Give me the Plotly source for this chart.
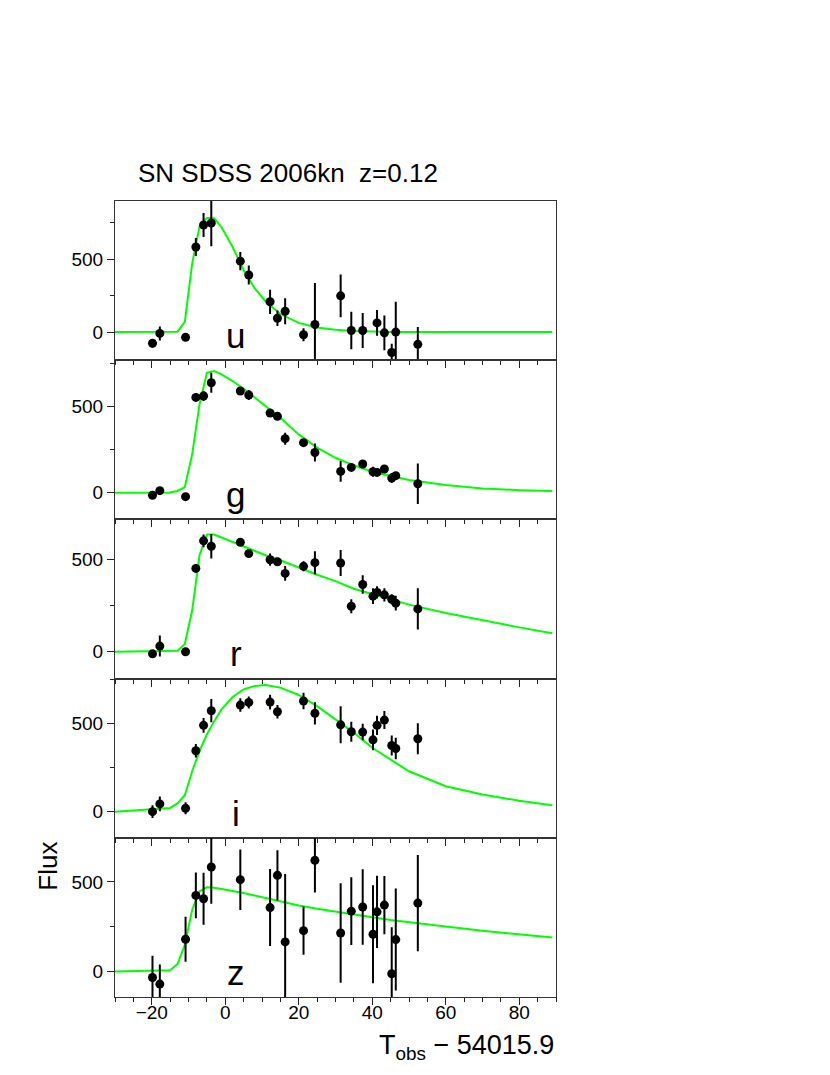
import plotly.graph_objects as go
from plotly.subplots import make_subplots

# observed light curve points: time, flux, flux error per band
t_u = [-19.8, -17.8, -10.8, -8.0, -5.9, -3.8, 4.1, 6.4, 12.2, 14.2, 16.3, 21.3, 24.4, 31.4, 34.3, 37.4, 41.3, 43.3, 45.3, 46.4, 52.4]
f_u = [-77, -9, -36, 584, 735, 749, 487, 392, 208, 95, 143, -18, 52, 249, 11, 11, 63, -5, -140, 0, -84]
e_u = [28, 48, 20, 62, 83, 160, 62, 66, 83, 54, 90, 45, 285, 147, 128, 120, 88, 119, 60, 209, 119]

t_g = [-19.8, -17.8, -10.8, -8.0, -5.9, -3.8, 4.1, 6.4, 12.2, 14.2, 16.3, 21.3, 24.4, 31.4, 34.3, 37.4, 40.2, 41.3, 43.3, 45.3, 46.4, 52.4]
f_g = [-15, 12, -23, 554, 562, 639, 591, 568, 463, 444, 314, 291, 234, 124, 147, 167, 122, 118, 138, 85, 99, 52]
e_g = [10, 12, 8, 20, 29, 58, 15, 29, 18, 15, 35, 15, 52, 60, 18, 18, 29, 20, 18, 29, 18, 118]

t_r = [-19.8, -17.8, -10.8, -8.0, -5.9, -3.8, 4.1, 6.4, 12.2, 14.2, 16.3, 21.3, 24.4, 31.4, 34.3, 37.4, 40.2, 41.3, 43.3, 45.3, 46.4, 52.4]
f_r = [-11, 31, 0, 451, 600, 571, 592, 531, 498, 487, 424, 462, 482, 480, 246, 364, 301, 321, 308, 284, 263, 232]
e_r = [14, 57, 8, 22, 34, 66, 18, 18, 33, 22, 40, 27, 62, 70, 38, 50, 42, 33, 36, 27, 40, 111]

t_i = [-19.8, -17.8, -10.8, -8.0, -5.9, -3.8, 4.1, 6.4, 12.2, 14.2, 21.3, 24.4, 31.4, 34.3, 37.4, 40.2, 41.3, 43.3, 45.3, 46.4, 52.4]
f_i = [0, 44, 19, 345, 489, 572, 604, 619, 621, 566, 627, 557, 492, 453, 451, 407, 489, 519, 375, 358, 413]
e_i = [36, 42, 34, 38, 42, 66, 38, 34, 42, 38, 47, 63, 105, 57, 47, 59, 55, 51, 57, 61, 88]

t_z = [-19.8, -17.8, -10.8, -8.0, -5.9, -3.8, 4.1, 12.2, 14.2, 16.3, 21.3, 24.4, 31.4, 34.3, 37.4, 40.2, 41.3, 43.3, 45.3, 46.4, 52.4]
f_z = [-34, -71, 180, 425, 406, 584, 513, 357, 537, 165, 228, 621, 215, 337, 360, 208, 333, 371, -13, 178, 382]
e_z = [122, 110, 126, 128, 145, 206, 169, 215, 140, 380, 135, 180, 278, 189, 211, 274, 202, 163, 260, 285, 269]

# model curves (green)
t_model = [-30, -15, -13, -11, -9, -7, -5, -3, -1, 2, 5, 8, 11, 15, 20, 25, 30, 35, 40, 45, 50, 60, 70, 80, 89]
m_u = [0, 0, 3, 70, 470, 726, 783, 781, 720, 584, 425, 301, 210, 124, 63, 32, 16, 7, 2, 0, 0, 0, 0, 0, 0]
m_g = [0, 2, 10, 33, 223, 513, 697, 707, 688, 649, 604, 552, 504, 436, 339, 262, 203, 159, 122, 97, 74, 45, 25, 15, 10]
m_r = [0, 2, 5, 42, 223, 522, 634, 634, 618, 594, 571, 545, 522, 495, 455, 417, 382, 341, 313, 286, 255, 210, 169, 132, 100]
m_i = [0, 21, 47, 93, 229, 343, 437, 513, 580, 650, 693, 712, 718, 703, 661, 598, 523, 447, 362, 295, 229, 144, 97, 62, 36]
m_z = [0, 6, 41, 148, 345, 448, 470, 468, 461, 451, 438, 425, 410, 391, 369, 350, 333, 317, 303, 288, 275, 251, 228, 208, 189]

bands = ["u", "g", "r", "i", "z"]
obs = [(t_u, f_u, e_u), (t_g, f_g, e_g), (t_r, f_r, e_r), (t_i, f_i, e_i), (t_z, f_z, e_z)]
models = [m_u, m_g, m_r, m_i, m_z]
y_ranges = [[-193, 900], [-155, 770], [-145, 716], [-148, 754], [-143, 747]]

FONT = "Liberation Sans, Arial, Helvetica, sans-serif"

fig = make_subplots(rows=5, cols=1, shared_xaxes=False, vertical_spacing=0)

for k, band in enumerate(bands):
    row = k + 1
    t, f, e = obs[k]
    fig.add_trace(go.Scatter(
        x=t_model, y=models[k], mode="lines",
        line=dict(color="#00ff00", width=2), showlegend=False,
    ), row=row, col=1)
    fig.add_trace(go.Scatter(
        x=t, y=f, mode="markers",
        marker=dict(color="black", size=9),
        error_y=dict(type="data", array=e, color="black", thickness=2, width=0),
        showlegend=False,
    ), row=row, col=1)

    fig.update_xaxes(
        row=row, col=1, range=[-30, 90], tick0=0, dtick=20,
        ticks="outside", ticklen=7, tickwidth=1, tickcolor="#222",
        minor=dict(dtick=5, ticks="outside", ticklen=4, tickcolor="#222"),
        showticklabels=(row == 5), showgrid=False, zeroline=False,
        showline=True, mirror=True, linecolor="#333", linewidth=1,
        tickfont=dict(family=FONT, size=19, color="black"),
        ticklabelstandoff=-9, automargin=False,
    )
    fig.update_yaxes(
        row=row, col=1, range=y_ranges[k], tick0=0, dtick=500,
        ticks="outside", ticklen=7, tickwidth=1, tickcolor="#222",
        minor=dict(dtick=250, ticks="outside", ticklen=4, tickcolor="#222"),
        showgrid=False, zeroline=False,
        showline=True, mirror=True, linecolor="#333", linewidth=1,
        tickfont=dict(family=FONT, size=19, color="black"),
        automargin=False,
    )
    fig.add_annotation(
        text=band, xref=f"x{'' if row == 1 else row}", yref=f"y{'' if row == 1 else row} domain",
        x=2.9, y=0.02, xanchor="center", yanchor="bottom", showarrow=False,
        font=dict(family=FONT, size=35, color="black"),
    )

fig.add_annotation(
    text="SN SDSS 2006kn&nbsp;&nbsp;z=0.12", xref="paper", yref="paper",
    x=0.0476, y=1.035, xanchor="left", yanchor="middle", showarrow=False,
    font=dict(family=FONT, size=26, color="black"),
)
fig.add_annotation(
    text="Flux", xref="paper", yref="paper", x=-0.152, y=0.165,
    xanchor="center", yanchor="middle", textangle=-90, showarrow=False,
    font=dict(family=FONT, size=26, color="black"),
)
fig.add_annotation(
    text="T<sub>obs</sub> \u2212 54015.9", xref="paper", yref="paper",
    x=1.0, y=-0.063, xanchor="right", yanchor="middle", showarrow=False,
    font=dict(family=FONT, size=27, color="black"),
)

# the page body adds an 8 px offset, so margins are shifted to compensate
fig.update_layout(
    width=830, height=1075,
    margin=dict(l=107, r=282, t=193, b=86),
    paper_bgcolor="white", plot_bgcolor="white",
    font=dict(family=FONT, color="black"),
)

fig.write_html("out.html")
